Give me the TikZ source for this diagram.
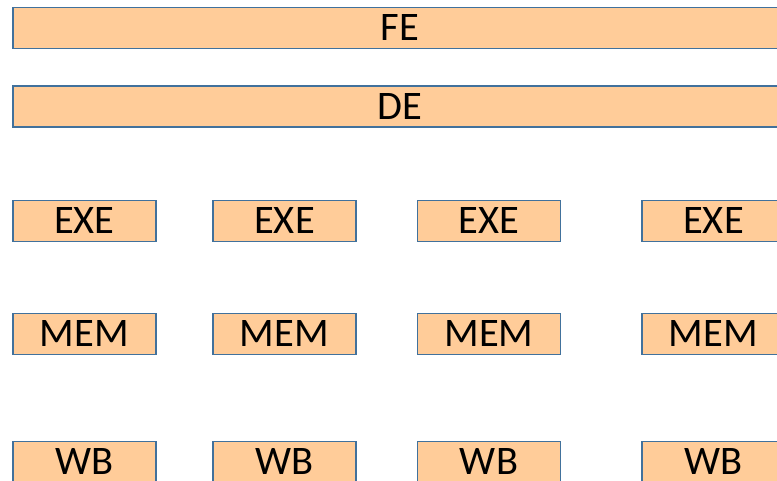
\documentclass[tikz,border=0pt]{standalone}
\usepackage{fontspec}
\setmainfont{Carlito}
\usepackage{tikz}
\usetikzlibrary{positioning}

\definecolor{stagefill}{HTML}{FFCC99}
\definecolor{stageline}{HTML}{41719C}

\begin{document}
\begin{tikzpicture}[x=1pt,y=-1pt,
    stage/.style={draw=stageline,fill=stagefill,line width=1.8pt,
        minimum width=143pt,minimum height=41pt,inner sep=0pt,
        font=\fontsize{40.5}{42}\selectfont},
    wide/.style={stage,minimum width=774pt}]
    \useasboundingbox (0,0) rectangle (777,480);
    \clip (0,0) rectangle (777,480);
    \node[wide] (fe) at (400,28) {FE};
    \node[wide] (de) at (400,106.5) {DE};
    \foreach \i/\x in {1/84.5,2/284.5,3/489,4/713.5} {
        \node[stage] (exe\i) at (\x,221) {EXE};
        \node[stage] (mem\i) at (\x,334) {MEM};
        \node[stage] (wb\i) at (\x,462) {WB};
    }
\end{tikzpicture}
\end{document}
